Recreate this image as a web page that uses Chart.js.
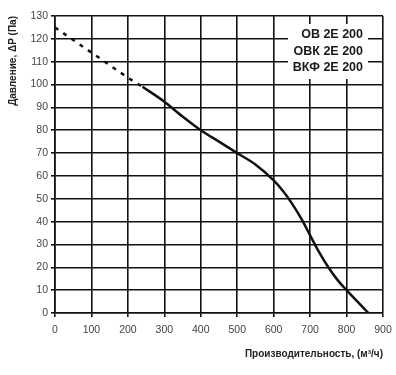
<!DOCTYPE html>
<html>
<head>
<meta charset="utf-8">
<script src="https://cdn.jsdelivr.net/npm/chart.js@4"></script>
<style>
  html, body { margin: 0; padding: 0; background: #fff; }
  #wrap { width: 396px; height: 375px; }
</style>
</head>
<body>
<div id="wrap"><canvas id="fan" width="396" height="375"></canvas></div>
<script>
  // performance curve
  const dashedFlow = [0, 50, 100, 150, 200, 240];
  const dashedPressure = [125, 119.5, 114, 108.5, 103, 99];
  const solidFlow = [240, 300, 350, 400, 450, 500, 550, 600, 625, 650, 675, 700, 725, 750, 775, 800, 830, 860];
  const solidPressure = [99, 92.5, 86, 80, 75, 70, 65, 58, 53.5, 48, 41.5, 34, 26.5, 20, 14.5, 10, 5, 0];
  const models = ['ОВ 2Е 200', 'ОВК 2Е 200', 'ВКФ 2Е 200'];

  const toPoints = (xs, ys) => xs.map((x, i) => ({ x: x, y: ys[i] }));

  const modelBox = {
    id: 'modelBox',
    afterDraw(chart) {
      const ctx = chart.ctx;
      const area = chart.chartArea;
      ctx.save();
      ctx.fillStyle = '#fff';
      ctx.fillRect(area.right - 95, area.top + 8, 80, 55);
      ctx.fillStyle = '#1a1a1a';
      ctx.font = 'bold 12.5px "Liberation Sans", Arial, sans-serif';
      ctx.textAlign = 'right';
      ctx.textBaseline = 'middle';
      models.forEach((m, i) => {
        ctx.fillText(m, area.right - 20, area.top + 19 + i * 16.5);
      });
      ctx.restore();
    }
  };

  const tickFont = { family: '"Liberation Sans", Arial, sans-serif', size: 10.5 };
  const titleFont = { family: '"Liberation Sans", Arial, sans-serif', size: 10, weight: 'bold' };

  new Chart(document.getElementById('fan'), {
    type: 'scatter',
    data: {
      datasets: [{
        data: toPoints(dashedFlow, dashedPressure),
        showLine: true,
        borderColor: '#111',
        borderWidth: 2.5,
        borderDash: [4, 6],
        pointRadius: 0,
        tension: 0
      }, {
        data: toPoints(solidFlow, solidPressure),
        showLine: true,
        borderColor: '#111',
        borderWidth: 2.5,
        pointRadius: 0,
        cubicInterpolationMode: 'monotone'
      }]
    },
    options: {
      responsive: false,
      animation: false,
      layout: { padding: { top: 16, right: 13, left: 0, bottom: 0 } },
      plugins: { legend: { display: false }, tooltip: { enabled: false } },
      scales: {
        x: {
          type: 'linear',
          min: 0, max: 900,
          ticks: { stepSize: 100, color: '#444', font: tickFont, padding: 7 },
          grid: { color: '#111', lineWidth: 1.6, tickLength: 4 },
          border: { color: '#111', width: 1.6 },
          title: { display: true, text: 'Производительность, (м³/ч)', align: 'end', color: '#222', font: titleFont, padding: { top: 4, bottom: 15 } },
          afterFit(scale) {
            scale.height = 62;
            scale.paddingRight = 9;
          }
        },
        y: {
          min: 0, max: 130,
          ticks: { stepSize: 10, color: '#444', font: tickFont, padding: 3 },
          grid: { color: '#111', lineWidth: 1.6, tickLength: 4 },
          border: { color: '#111', width: 1.6 },
          title: { display: true, text: 'Давление, ΔP (Па)', align: 'end', color: '#222', font: titleFont, padding: { top: 7, bottom: 2 } },
          afterFit(scale) { scale.width = 55; }
        }
      }
    },
    plugins: [modelBox]
  });
</script>
</body>
</html>
